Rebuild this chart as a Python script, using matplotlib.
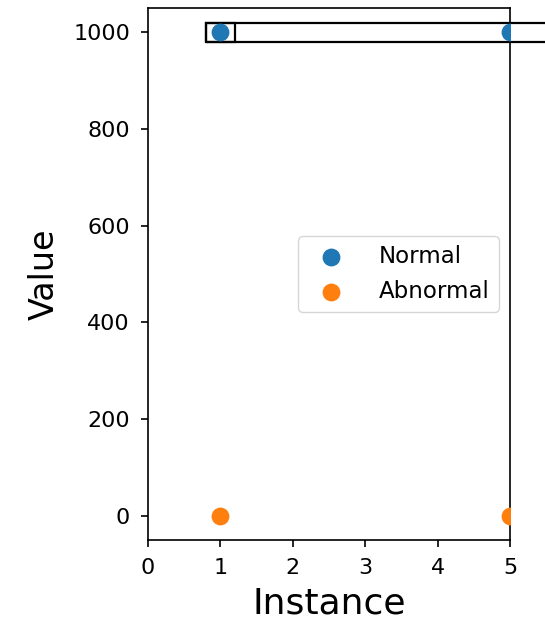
import matplotlib
matplotlib.use("Agg")
import matplotlib.pyplot as plt
from matplotlib.patches import Rectangle

normal_x = [1, 5]
normal_y = [1000, 1000]
abnormal_x = [1, 5]
abnormal_y = [0, 0]

fig = plt.figure(figsize=(5.45, 6.19), dpi=100)
ax = fig.add_axes([0.2716, 0.1276, 0.6642, 0.8594])
ax.scatter(normal_x, normal_y, s=140, color='#1f77b4', label='Normal', zorder=3)
ax.scatter(abnormal_x, abnormal_y, s=140, color='#ff7f0e', label='Abnormal', zorder=3)

ax.add_patch(Rectangle((0.8, 980), 0.4, 40, fill=False, edgecolor='black', lw=1.6, clip_on=False))
ax.add_patch(Rectangle((0.8, 980), 4.8, 40, fill=False, edgecolor='black', lw=1.6, clip_on=False))

ax.set_xlim(0, 5)
ax.set_ylim(-50, 1050)
ax.set_xticks([0, 1, 2, 3, 4, 5])
ax.set_yticks([0, 200, 400, 600, 800, 1000])
ax.tick_params(labelsize=16, width=1.2, length=5, pad=8)
for sp in ax.spines.values():
    sp.set_linewidth(1.2)
ax.set_xlabel('Instance', fontsize=26, labelpad=6)
ax.set_ylabel('Value', fontsize=24, labelpad=9)
ax.legend(loc='center right', fontsize=16.5, handletextpad=1.1)
fig.savefig('out.png', dpi=100)
